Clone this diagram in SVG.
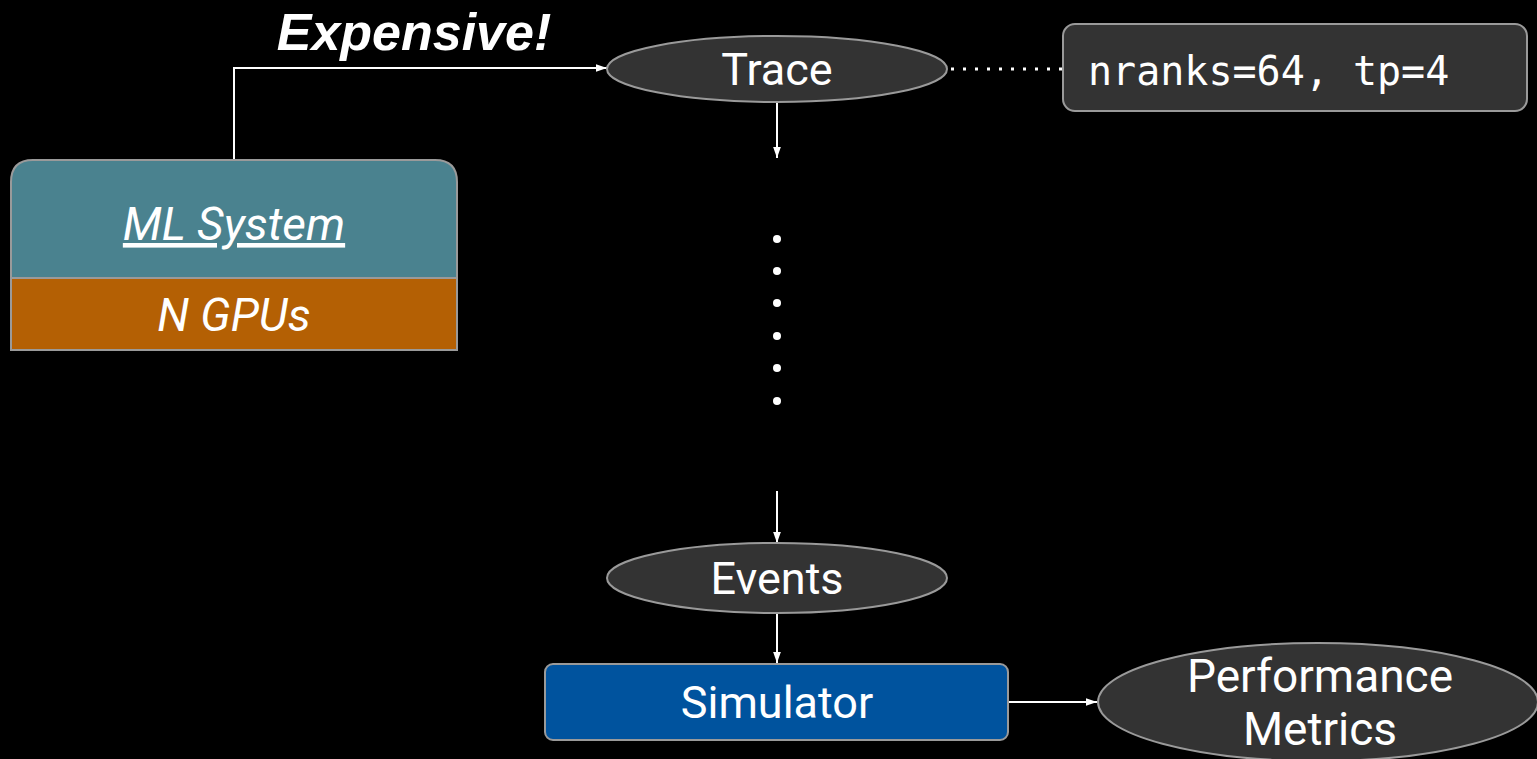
<svg xmlns="http://www.w3.org/2000/svg" width="1537" height="759" viewBox="0 0 1537 759">
  <style>
    .lbl { font-family: Roboto, "Open Sans", sans-serif; fill: #ffffff; text-anchor: middle; }
    .ell { fill: #333333; stroke: #9a9a9a; stroke-width: 2; }
    .wire { fill: none; stroke: #ffffff; stroke-width: 2; }
  </style>
  <defs>
    <marker id="arrow" viewBox="0 0 10 10" refX="10" refY="5" markerWidth="11" markerHeight="11" orient="auto" markerUnits="userSpaceOnUse">
      <path d="M0,1.5 L10,5 L0,8.5 Z" fill="#ffffff"/>
    </marker>
  </defs>
  <rect width="1537" height="759" fill="#000000"/>

  <g id="connectors">
    <path class="wire" d="M234,160 V68 H607" marker-end="url(#arrow)"/>
    <path class="wire" d="M777,101 V158" marker-end="url(#arrow)"/>
    <path class="wire" d="M777,491 V543" marker-end="url(#arrow)"/>
    <path class="wire" d="M777,613 V663" marker-end="url(#arrow)"/>
    <path class="wire" d="M1008,702 H1097" marker-end="url(#arrow)"/>
    <line x1="951" y1="69" x2="1062" y2="69" stroke="#ffffff" stroke-width="3" stroke-dasharray="3 9"/>
    <g fill="#ffffff">
      <circle cx="777" cy="239" r="4"/>
      <circle cx="777" cy="271" r="4"/>
      <circle cx="777" cy="303" r="4"/>
      <circle cx="777" cy="336" r="4"/>
      <circle cx="777" cy="368" r="4"/>
      <circle cx="777" cy="401" r="4"/>
    </g>
  </g>

  <g id="expensive-label">
    <text x="414" y="50" font-family="'Liberation Sans', Arial, sans-serif" font-size="52" font-weight="bold" font-style="italic" fill="#ffffff" text-anchor="middle">Expensive!</text>
  </g>

  <g id="ml-system">
    <path d="M11,278 V182 Q11,160 33,160 H435 Q457,160 457,182 V278 Z" fill="#4a828f" stroke="#9a9a9a" stroke-width="2"/>
    <rect x="11" y="278" width="446" height="72" fill="#b46004" stroke="#9a9a9a" stroke-width="2"/>
    <text class="lbl" x="234" y="240" font-size="46" font-style="italic" text-decoration="underline">ML System</text>
    <text class="lbl" x="234" y="331" font-size="46" font-style="italic">N GPUs</text>
  </g>

  <g id="trace">
    <ellipse class="ell" cx="777" cy="69" rx="170" ry="33"/>
    <text class="lbl" x="777" y="85" font-size="45">Trace</text>
  </g>

  <g id="config">
    <rect x="1063" y="24" width="464" height="87" rx="12" fill="#333333" stroke="#9a9a9a" stroke-width="2"/>
    <text x="1088" y="85" font-family="'DejaVu Sans Mono', monospace" font-size="40" fill="#ffffff">nranks=64, tp=4</text>
  </g>

  <g id="events">
    <ellipse class="ell" cx="777" cy="578" rx="170" ry="35"/>
    <text class="lbl" x="777" y="594" font-size="45">Events</text>
  </g>

  <g id="simulator">
    <rect x="545" y="664" width="463" height="76" rx="8" fill="#00539e" stroke="#9a9a9a" stroke-width="2"/>
    <text class="lbl" x="777" y="718" font-size="45">Simulator</text>
  </g>

  <g id="metrics">
    <ellipse class="ell" cx="1318" cy="702" rx="220" ry="59"/>
    <text class="lbl" x="1320" y="692" font-size="46">Performance</text>
    <text class="lbl" x="1320" y="745" font-size="46">Metrics</text>
  </g>
</svg>
